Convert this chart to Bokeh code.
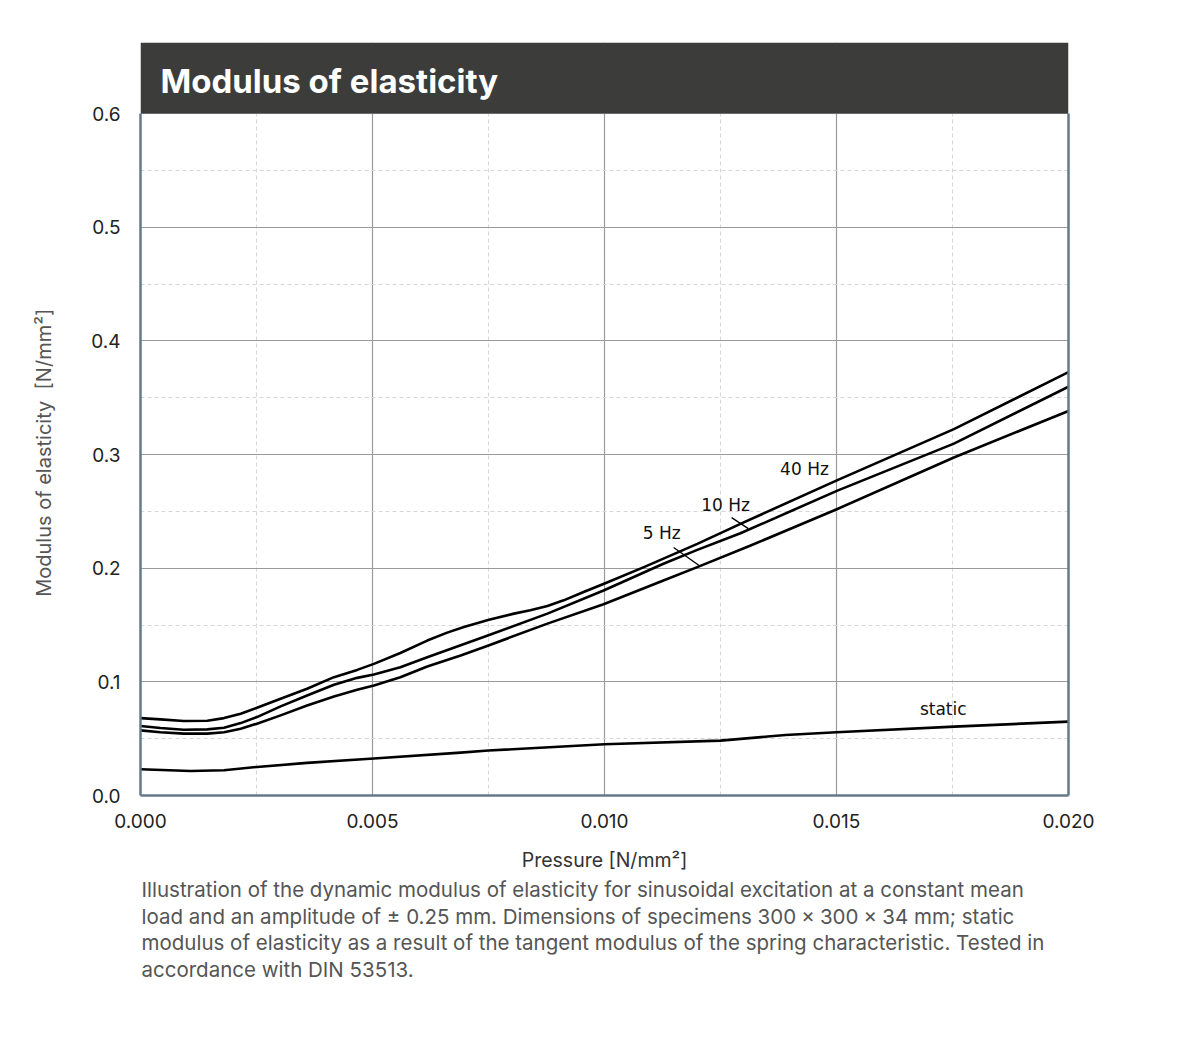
from bokeh.plotting import figure
from bokeh.layouts import column
from bokeh.models import Range1d, FixedTicker, LinearAxis, PrintfTickFormatter
from bokeh.core.properties import value
from bokeh.embed import file_html
from bokeh.resources import INLINE

# ---------------- data ----------------
x_40 = [0.0, 0.00043, 0.00093, 0.00144, 0.0018, 0.00216, 0.00251, 0.00302, 0.00359, 0.00417,
        0.00467, 0.00503, 0.0056, 0.00618, 0.00661, 0.00697, 0.00751, 0.00805, 0.0084, 0.00877,
        0.00912, 0.00955, 0.00999, 0.01085, 0.0120, 0.01293, 0.01502, 0.01753, 0.0200]
y_40 = [0.0681, 0.0670, 0.0655, 0.0658, 0.0681, 0.0719, 0.0772, 0.0851, 0.0939, 0.1041,
        0.1105, 0.1158, 0.1254, 0.1363, 0.1433, 0.1482, 0.1547, 0.1600, 0.1629, 0.1667,
        0.1717, 0.1790, 0.1863, 0.2009, 0.2214, 0.2390, 0.2775, 0.3223, 0.3725]

x_10 = [0.0, 0.00043, 0.00093, 0.00144, 0.0018, 0.00216, 0.00251, 0.00302, 0.00359, 0.00417,
        0.00467, 0.00503, 0.0056, 0.00618, 0.0069, 0.0075, 0.00877, 0.00998, 0.01127, 0.0120,
        0.01293, 0.01502, 0.01753, 0.0200]
y_10 = [0.0611, 0.0594, 0.0579, 0.0582, 0.0596, 0.0637, 0.0690, 0.0784, 0.0880, 0.0974,
        0.1035, 0.1064, 0.1129, 0.1216, 0.1322, 0.1410, 0.1600, 0.1804, 0.2039, 0.2161,
        0.2307, 0.2682, 0.3096, 0.3596]

x_5 = [0.0, 0.00043, 0.00093, 0.00144, 0.0018, 0.00216, 0.00251, 0.00302, 0.00359, 0.00417,
       0.00467, 0.00503, 0.0056, 0.00618, 0.0069, 0.0075, 0.00877, 0.00998, 0.01127, 0.0120,
       0.01315, 0.01502, 0.01753, 0.0200]
y_5 = [0.0573, 0.0556, 0.0544, 0.0544, 0.0556, 0.0588, 0.0632, 0.0705, 0.0792, 0.0871,
       0.0930, 0.0968, 0.1041, 0.1135, 0.1231, 0.1320, 0.1512, 0.1682, 0.1892, 0.2009,
       0.2199, 0.2521, 0.2974, 0.3383]

x_static = [0.0, 0.00108, 0.0018, 0.00251, 0.00359, 0.00503, 0.0069, 0.0075, 0.0100, 0.0125,
            0.0139, 0.0150, 0.01754, 0.0200]
y_static = [0.0231, 0.0216, 0.0222, 0.0251, 0.0287, 0.0325, 0.0377, 0.0396, 0.0451, 0.0483,
            0.0532, 0.0556, 0.0606, 0.0650]

label_texts = ["40 Hz", "10 Hz", "5 Hz", "static"]
label_x = [0.01431, 0.01261, 0.011235, 0.01730]
label_y = [0.2870, 0.2559, 0.2309, 0.0758]

leader_x0 = [0.01274, 0.01149]
leader_y0 = [0.2445, 0.2182]
leader_x1 = [0.01310, 0.01207]
leader_y1 = [0.2348, 0.2015]

x_ticks = [0.0, 0.005, 0.010, 0.015, 0.020]
x_minor = [0.0025, 0.0075, 0.0125, 0.0175]
y_ticks = [0.0, 0.1, 0.2, 0.3, 0.4, 0.5, 0.6]
y_minor = [0.05, 0.15, 0.25, 0.35, 0.45, 0.55]

X_MIN, X_MAX = 0.0, 0.02
Y_MIN, Y_MAX = 0.0, 0.6

title_text = "Modulus of elasticity"
x_label = "Pressure [N/mm²]"
# trailing no-break spaces shift the rotated label down so it centres on the 0 .. 0.6 area
y_label = "Modulus of elasticity\u00a0 [N/mm²]" + "\u00a0" * 12
SP = "\u2005"  # four-per-em spaces keep Inter from turning "x" between digits into a multiplication sign
caption_lines = [
    "Illustration of the dynamic modulus of elasticity for sinusoidal excitation at a constant mean",
    f"load and an amplitude of ± 0.25 mm. Dimensions of specimens 300{SP}x{SP}300{SP}x{SP}34 mm; static",
    "modulus of elasticity as a result of the tangent modulus of the spring characteristic. Tested in",
    "accordance with DIN 53513.",
]

# ---------------- layout constants (pixels) ----------------
W = 1190
LEFT = 140
FRAME_W = 928
RIGHT = W - LEFT - FRAME_W
TOP = 42            # top of the title bar
BAR_H = 71          # height of the title bar
PLOT_H = 682        # height of the data area (0 .. 0.6)
BOTTOM = 80
AXIS_COLOR = "#647a88"
FONT = "Inter"

px_per_unit = PLOT_H / (Y_MAX - Y_MIN)
y_top = Y_MAX + BAR_H / px_per_unit
title_x = X_MIN + 20 * (X_MAX - X_MIN) / FRAME_W
title_y = Y_MAX + 33 / px_per_unit

# ---------------- main plot ----------------
p = figure(width=W, height=TOP + BAR_H + PLOT_H + BOTTOM, output_backend="svg", toolbar_location=None,
           x_range=Range1d(X_MIN, X_MAX), y_range=Range1d(Y_MIN, y_top),
           min_border_left=LEFT, min_border_right=RIGHT, min_border_top=TOP, min_border_bottom=BOTTOM)
p.outline_line_color = None
p.background_fill_color = "white"
p.border_fill_color = "white"

p.xaxis.ticker = FixedTicker(ticks=x_ticks, minor_ticks=x_minor)
p.yaxis.ticker = FixedTicker(ticks=y_ticks, minor_ticks=y_minor)
p.xaxis.formatter = PrintfTickFormatter(format="%.3f")
p.yaxis.formatter = PrintfTickFormatter(format="%.1f")
p.yaxis.bounds = (Y_MIN, Y_MAX)
p.xaxis.bounds = (X_MIN, X_MAX)

for ax in (p.xaxis[0], p.yaxis[0]):
    ax.axis_line_color = AXIS_COLOR
    ax.axis_line_width = 2.5
    ax.major_tick_line_color = None
    ax.minor_tick_line_color = None
    ax.major_label_text_font = FONT
    ax.major_label_text_font_size = "19px"
    ax.major_label_text_color = "#222222"

p.xaxis.major_label_standoff = 12
p.yaxis.major_label_standoff = 14
p.xaxis.axis_label = x_label
p.xaxis.axis_label_text_font = FONT
p.xaxis.axis_label_text_font_size = "19.5px"
p.xaxis.axis_label_text_font_style = "normal"
p.xaxis.axis_label_text_color = "#333333"
p.xaxis.axis_label_standoff = 17
p.yaxis.axis_label = y_label
p.yaxis.axis_label_text_font = FONT
p.yaxis.axis_label_text_font_size = "20px"
p.yaxis.axis_label_text_font_style = "normal"
p.yaxis.axis_label_text_color = "#555555"
p.yaxis.axis_label_standoff = 32

right = LinearAxis(ticker=FixedTicker(ticks=[]), axis_line_color=AXIS_COLOR, axis_line_width=2.5,
                   major_tick_line_color=None, minor_tick_line_color=None,
                   major_label_text_font_size="0px", bounds=(Y_MIN, Y_MAX))
p.add_layout(right, "right")

p.xgrid.grid_line_color = "#9a9a9a"
p.ygrid.grid_line_color = "#9a9a9a"
p.xgrid.grid_line_width = 1.2
p.ygrid.grid_line_width = 1.2
p.xgrid.minor_grid_line_color = "#d6d6d6"
p.ygrid.minor_grid_line_color = "#d6d6d6"
p.xgrid.minor_grid_line_dash = "4 3"
p.ygrid.minor_grid_line_dash = "4 3"

# title bar
p.quad(left=[X_MIN], right=[X_MAX], bottom=[Y_MAX], top=[y_top],
       fill_color="#3c3c3b", line_color=None)
p.text(x=[title_x], y=[title_y], text=[title_text], text_font=value(FONT), text_font_style="bold",
       text_font_size="33px", text_color="white", text_baseline="middle", text_align="left")

for xs, ys in ((x_40, y_40), (x_10, y_10), (x_5, y_5), (x_static, y_static)):
    p.line(xs, ys, line_color="black", line_width=2.6, line_join="round", line_cap="round")

p.segment(x0=leader_x0, y0=leader_y0, x1=leader_x1, y1=leader_y1, line_color="black", line_width=1.3)
p.text(x=label_x, y=label_y, text=label_texts, text_font=value("DejaVu Sans"),
       text_font_size="17px", text_color="#111111", text_align="center", text_baseline="middle")

# ---------------- caption ----------------
CAP_H = 115
c = figure(width=W, height=CAP_H, output_backend="svg", toolbar_location=None,
           x_range=Range1d(0, FRAME_W), y_range=Range1d(CAP_H, 0),
           x_axis_location=None, y_axis_location=None,
           min_border_left=LEFT, min_border_right=RIGHT, min_border_top=0, min_border_bottom=0)
c.grid.visible = False
c.outline_line_color = None
c.border_fill_color = "white"
c.background_fill_color = "white"
cap_y = [14 + 26.6 * i for i in range(len(caption_lines))]
c.text(x=[1] * len(caption_lines), y=cap_y, text=caption_lines, text_font=value(FONT),
       text_font_size="20.5px", text_color="#555555", text_align="left", text_baseline="middle")

layout = column(p, c, spacing=0)
open("out.html", "w").write(file_html(layout, INLINE))
